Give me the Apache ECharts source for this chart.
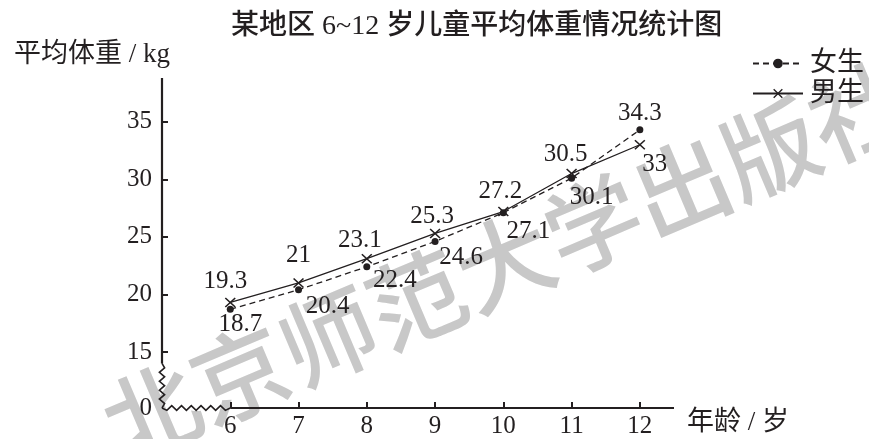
<!DOCTYPE html>
<html>
<head>
<meta charset="utf-8">
<script src="https://cdn.jsdelivr.net/npm/echarts@6/dist/echarts.min.js"></script>
<style>
html,body{margin:0;padding:0;background:#fff;}
#c{width:869px;height:439px;}
</style>
</head>
<body>
<div id="c"></div>
<script>
// ---- data ----
const ages = [6, 7, 8, 9, 10, 11, 12];
const girls = [18.7, 20.4, 22.4, 24.6, 27.1, 30.1, 34.3];
const boys = [19.3, 21, 23.1, 25.3, 27.2, 30.5, 33];
const seriesNames = ['女生', '男生'];
const xTickValues = [6, 7, 8, 9, 10, 11, 12];
const yTickValues = [15, 20, 25, 30, 35];
const yOriginLabel = '0';
const titleText = '某地区 6~12 岁儿童平均体重情况统计图';
const yName = '平均体重 / kg';
const xName = '年龄 / 岁';
const watermarkText = '北京师范大学出版社';

// ---- axis-break geometry (in axis values) ----
const xMin = 5, xBreak = 6, xMax = 12.5;
const yMin = 10.13, yBreak = 14.0, yMax = 38.8;

// label offsets (layout only)
const girlLabelOffsets = [[10, 15], [29, 17], [28, 14], [26, 16], [25, 19], [20, 19], [0, -16]];
const boyLabelOffsets = [[-5, -21], [0, -27], [-7, -18], [-3, -17], [-3, -20], [-6, -19], [15, 20]];

const INK = '#231f20';
const FONT = '"Liberation Serif", "Noto Sans CJK SC", serif';
const FS = 25;
const FS_CJK = 27;

const chart = echarts.init(document.getElementById('c'), null, {renderer: 'canvas'});

function mkData(vals, offsets) {
  return vals.map((v, i) => ({
    value: [ages[i], v],
    label: {
      show: true, position: 'inside', offset: offsets[i],
      formatter: String(v), color: INK, fontFamily: FONT, fontSize: FS
    }
  }));
}

const xSymbol = 'path://M0,1L1,0L5,4L9,0L10,1L6,5L10,9L9,10L5,6L1,10L0,9L4,5Z';

function zig(p0, p1, n, amp, vertical) {
  const pts = [];
  for (let i = 0; i <= n; i++) {
    const t = i / n;
    let x = p0[0] + (p1[0] - p0[0]) * t;
    let y = p0[1] + (p1[1] - p0[1]) * t;
    const d = (i === 0 || i === n) ? 0 : (i % 2 ? amp : -amp);
    if (vertical) x += d; else y += d;
    pts.push([x, y]);
  }
  return pts;
}

const option = {
  animation: false,
  backgroundColor: '#fff',
  textStyle: {fontFamily: FONT, color: INK},
  title: {
    text: titleText, left: 226, top: 8,
    textStyle: {fontFamily: FONT, fontSize: 28, fontWeight: 500, color: INK}
  },
  legend: {
    data: [
      {name: seriesNames[0]},
      {name: seriesNames[1]}
    ],
    orient: 'vertical', right: 0, top: 45,
    itemWidth: 50, itemHeight: 12, itemGap: 3,
    textStyle: {fontFamily: FONT, fontSize: FS_CJK, color: INK, padding: [0, 0, 0, 2]}
  },
  grid: {left: 162, right: 195, top: 78, bottom: 31, containLabel: false},
  xAxis: {
    type: 'value', min: xMin, max: xMax,
    name: xName, nameLocation: 'end', nameGap: 13,
    nameTextStyle: {fontFamily: FONT, fontSize: FS_CJK, color: INK, verticalAlign: 'top', padding: [1, 0, 0, 0]},
    axisLine: {show: false},
    splitLine: {show: false},
    axisTick: {show: true, inside: true, length: 6, customValues: xTickValues, lineStyle: {color: INK, width: 2}},
    axisLabel: {customValues: xTickValues, margin: 6, fontFamily: FONT, fontSize: FS, color: INK}
  },
  yAxis: {
    type: 'value', min: yMin, max: yMax,
    name: yName, nameLocation: 'end', nameGap: 10,
    nameTextStyle: {fontFamily: FONT, fontSize: FS_CJK, color: INK, align: 'right', padding: [0, -8, 0, 0]},
    axisLine: {show: false},
    splitLine: {show: false},
    axisTick: {show: true, inside: true, length: 6, customValues: yTickValues, lineStyle: {color: INK, width: 2}},
    axisLabel: {
      customValues: [yMin].concat(yTickValues), margin: 10,
      fontFamily: FONT, fontSize: FS, color: INK,
      formatter: v => (v < yBreak ? yOriginLabel : String(v))
    }
  },
  graphic: [{
    type: 'text', z: -10, silent: true,
    x: 505, y: 262, rotation: 23 * Math.PI / 180,
    style: {
      text: watermarkText, fill: '#c8c8c8',
      font: '500 96px "Noto Sans CJK SC"', align: 'center', verticalAlign: 'middle'
    }
  }],
  series: [
    {
      name: seriesNames[0], type: 'line', z: 4,
      data: mkData(girls, girlLabelOffsets),
      symbol: 'circle', symbolSize: 7,
      itemStyle: {color: INK},
      lineStyle: {color: INK, width: 1.3, type: [6, 4]}
    },
    {
      name: seriesNames[1], type: 'line', z: 3,
      data: mkData(boys, boyLabelOffsets),
      symbol: xSymbol, symbolSize: [11, 10],
      itemStyle: {color: INK},
      lineStyle: {color: INK, width: 1.3, type: 'solid'}
    },
    {
      type: 'custom', silent: true, z: 5,
      data: [[xMin, yMin]],
      renderItem: function (params, api) {
        const O = api.coord([xMin, yMin]);
        const YB = api.coord([xMin, yBreak]);
        const YT = api.coord([xMin, yMax]);
        const XB = api.coord([xBreak, yMin]);
        const XE = api.coord([xMax, yMin]);
        const st = {stroke: INK, lineWidth: 2.2, fill: null, lineJoin: 'miter'};
        const stz = {stroke: INK, lineWidth: 1.6, fill: null};
        return {
          type: 'group',
          children: [
            {type: 'polyline', shape: {points: zig(O, YB, 10, 2.6, true)}, style: stz},
            {type: 'line', shape: {x1: YB[0], y1: YB[1], x2: YT[0], y2: YT[1]}, style: st},
            {type: 'polyline', shape: {points: zig(O, XB, 14, 2.4, false)}, style: stz},
            {type: 'line', shape: {x1: XB[0], y1: XB[1], x2: XE[0], y2: XE[1]}, style: st}
          ]
        };
      }
    }
  ]
};
chart.setOption(option);
</script>
</body>
</html>
